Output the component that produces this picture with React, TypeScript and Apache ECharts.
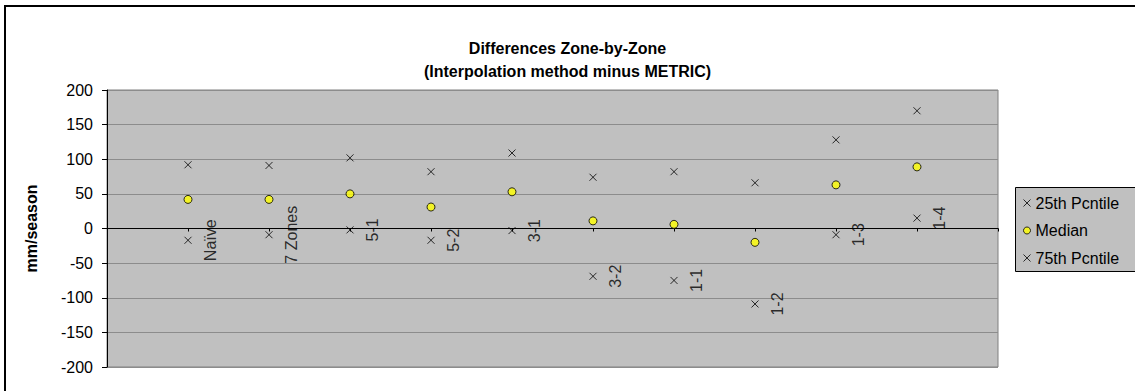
import React, { useEffect, useRef } from "react";
import * as echarts from "echarts";

// Zones compared, in plotting order along the horizontal axis
const zones = ["Naïve", "7 Zones", "5-1", "5-2", "3-1", "3-2", "1-1", "1-2", "1-3", "1-4"];
// Differences in mm/season for each zone
const pct25 = [-17, -9, -2, -17, -3, -69, -75, -109, -9, 15];
const median = [42, 42, 50, 31, 53, 11, 6, -20, 63, 89];
const pct75 = [92, 91, 102, 82, 109, 74, 82, 66, 128, 170];
const yTicks = [-200, -150, -100, -50, 0, 50, 100, 150, 200];

const CROSS = "path://M0,0L10,10M10,0L0,10";
const FONT = "Liberation Sans, Arial, sans-serif";

const toPoints = (vals: number[]) => vals.map((v, i) => [i + 1, v]);

export default function App() {
  const ref = useRef<HTMLDivElement>(null);

  useEffect(() => {
    document.body.style.margin = "0";
    if (!ref.current) return;
    const chart = echarts.init(ref.current, null, { renderer: "svg" });

    const crossStyle = {
      color: "rgba(0,0,0,0)",
      borderColor: "#000",
      borderWidth: 1,
    };

    chart.setOption({
      animation: false,
      textStyle: { fontFamily: FONT },
      title: {
        text: "Differences Zone-by-Zone\n(Interpolation method minus METRIC)",
        left: "center",
        top: 32,
        textStyle: {
          fontFamily: FONT,
          fontSize: 16,
          fontWeight: "bold",
          color: "#000",
          lineHeight: 23,
        },
      },
      graphic: [
        // chart frame, running past the right and bottom edges
        {
          type: "rect",
          shape: { x: 5, y: 6, width: 1300, height: 600 },
          style: { fill: "none", stroke: "#000", lineWidth: 2 },
          silent: true,
          z: -10,
        },
        // legend box, also running past the right edge
        {
          type: "rect",
          shape: { x: 1015.5, y: 187.5, width: 200, height: 84 },
          style: { fill: "#C0C0C0", stroke: "#000", lineWidth: 1 },
          silent: true,
          z: 0,
        },
      ],
      legend: {
        orient: "vertical",
        left: 1015,
        top: 189,
        padding: [6, 6, 6, 8],
        itemWidth: 7,
        itemHeight: 7,
        itemGap: 11.5,
        itemStyle: { borderWidth: 1 },
        textStyle: { fontFamily: FONT, fontSize: 16, color: "#000" },
        data: ["25th Pcntile", "Median", "75th Pcntile"],
        z: 5,
      },
      grid: {
        left: 107,
        top: 90,
        right: 137,
        bottom: 24,
        show: true,
        backgroundColor: "#C0C0C0",
        borderColor: "#808080",
        borderWidth: 1,
      },
      xAxis: {
        type: "value",
        min: 0,
        max: 11,
        interval: 1,
        axisLabel: { show: false },
        splitLine: { show: false },
        axisLine: { onZero: true, lineStyle: { color: "#000", width: 1 } },
        axisTick: { show: true, length: 3, lineStyle: { color: "#000" } },
      },
      yAxis: {
        type: "value",
        min: yTicks[0],
        max: yTicks[yTicks.length - 1],
        interval: 50,
        name: "mm/season",
        nameLocation: "middle",
        nameGap: 68,
        nameTextStyle: { fontFamily: FONT, fontSize: 16, fontWeight: "bold", color: "#000" },
        axisLine: { show: true, lineStyle: { color: "#000", width: 1 } },
        axisTick: { show: true, length: 5, lineStyle: { color: "#000" } },
        axisLabel: { fontFamily: FONT, fontSize: 16, color: "#000", margin: 14 },
        splitLine: { show: true, lineStyle: { color: "#8C8C8C", width: 1 } },
      },
      series: [
        {
          name: "25th Pcntile",
          type: "scatter",
          symbol: CROSS,
          symbolSize: 7,
          itemStyle: crossStyle,
          data: toPoints(pct25),
          label: {
            show: true,
            position: "right",
            distance: 18,
            rotate: 90,
            align: "center",
            verticalAlign: "middle",
            fontFamily: FONT,
            fontSize: 16,
            color: "#000",
            formatter: (p: any) => zones[p.dataIndex],
          },
          z: 3,
        },
        {
          name: "Median",
          type: "scatter",
          symbol: "circle",
          symbolSize: 8,
          itemStyle: { color: "#FFFF00", borderColor: "#000", borderWidth: 1 },
          data: toPoints(median),
          z: 3,
        },
        {
          name: "75th Pcntile",
          type: "scatter",
          symbol: CROSS,
          symbolSize: 7,
          itemStyle: crossStyle,
          data: toPoints(pct75),
          z: 3,
        },
      ],
    });

    return () => chart.dispose();
  }, []);

  return <div ref={ref} style={{ width: 1135, height: 391 }} />;
}
